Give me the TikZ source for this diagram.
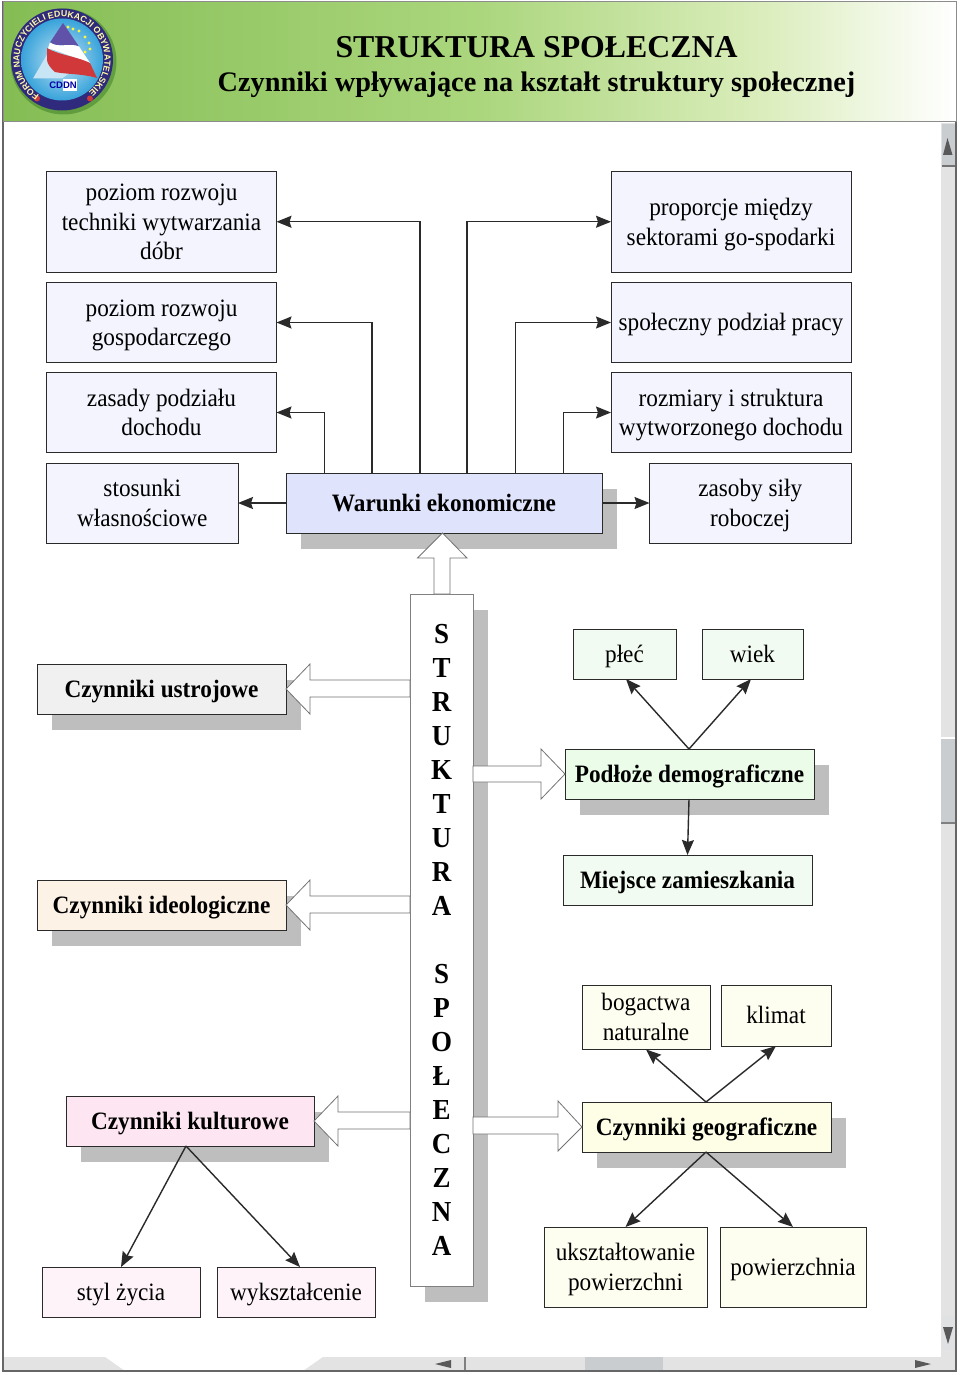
\documentclass[tikz,border=0pt]{standalone}
\usepackage{fontspec}
\setmainfont[FakeStretch=0.93]{Liberation Serif}
\newfontfamily\titlefont{Liberation Serif}
\setsansfont{Liberation Sans}
\usetikzlibrary{arrows.meta,shadows,decorations.text}
\pgfdeclarehorizontalshading{hdr}{100bp}{rgb(0bp)=(0.52,0.74,0.33);rgb(25bp)=(0.52,0.74,0.33);rgb(50bp)=(0.67,0.84,0.49);rgb(65bp)=(0.86,0.93,0.74);rgb(75bp)=(1,1,1);rgb(100bp)=(1,1,1)}
\definecolor{shad}{HTML}{BEBEBE}
\definecolor{lineC}{HTML}{2A2A2A}
\definecolor{fblue}{HTML}{F3F4FE}
\definecolor{fwar}{HTML}{DFE3FC}
\definecolor{fgrey}{HTML}{F0F0F0}
\definecolor{fideo}{HTML}{FDF2E6}
\definecolor{fkult}{HTML}{FDE6F2}
\definecolor{fpink}{HTML}{FEF3F9}
\definecolor{fgreen}{HTML}{F2FBF2}
\definecolor{fpod}{HTML}{EBFCE9}
\definecolor{fyel}{HTML}{FEFEF0}
\definecolor{fyel2}{HTML}{FEFEE6}
\definecolor{barC}{HTML}{E3E3E3}
\definecolor{btnC}{HTML}{CACDD0}
\definecolor{ringC}{HTML}{2F2A7C}
\definecolor{skyC}{HTML}{38A3DA}
\definecolor{purpC}{HTML}{5F52A8}
\definecolor{redC}{HTML}{D0383A}
\tikzset{
  x=1pt,y=-1pt,
  box/.style={draw=lineC,line width=1pt,inner sep=0pt,outer sep=0pt,align=center,
    font=\fontsize{25}{29.7}\selectfont},
  boldbox/.style={box,font=\fontsize{25}{29.7}\selectfont\bfseries},
  shadowbox/.style={boldbox,general shadow={fill=shad,shadow xshift=15pt,shadow yshift=-16pt}},
  arr/.style={draw=lineC,line width=1.4pt,-{Stealth[length=15pt,width=12pt,inset=2pt]}},
  blockarrow/.style={draw=black!55,line width=0.8pt,fill=white,line join=miter},
}
\newcommand\BxN[7]{\pgfmathsetmacro\bw{#5-#3}\pgfmathsetmacro\bh{#6-#4}%
  \node[#2,minimum width=\bw pt,minimum height=\bh pt,anchor=north west] (#1) at (#3,#4) {#7};}
\newcommand\Bx[7]{\BxN{#1}{#2}{#3}{#4}{#5}{#6}{\rule{0pt}{25.8pt}#7\strut}}
\begin{document}
\begin{tikzpicture}
\useasboundingbox (0,0) rectangle (960,1375);
\fill[white] (0,0) rectangle (960,1375);
% window
\fill[barC] (941,123) rectangle (955,1357);
\fill[btnC] (942,124) rectangle (955,166);
\fill[black!55] (942,165) rectangle (955,167);
\fill[black!65] (947.5,138) -- (952.5,155) -- (943,155) -- cycle;
\fill[btnC] (941,737) rectangle (955,824);
\fill[black!50] (941,822) rectangle (955,824);
\fill[white] (941,737) rectangle (955,739);
\fill[btnC!60!white] (942,1316) rectangle (955,1350);
\fill[black!65] (943,1327) -- (953,1327) -- (948,1344) -- cycle;
\fill[barC] (3,1357) -- (105,1357) -- (125,1371) -- (3,1371) -- cycle;
\fill[barC] (323,1357) -- (955,1357) -- (955,1371) -- (303,1371) -- cycle;
\fill[btnC] (585,1357) rectangle (663,1371);
\fill[black!50] (464,1357) rectangle (465.5,1371);
\fill[black!65] (435,1364) -- (451,1360) -- (451,1368) -- cycle;
\fill[black!65] (931,1364) -- (915,1360) -- (915,1368) -- cycle;
\draw[black!60,line width=1.2pt] (3,2) rectangle (956,1371);
\shade[shading=hdr,draw=black!45,line width=1pt] (3,2) rectangle (956,122);
% logo
\begin{scope}[shift={(62,59.5)},x=1pt,y=1pt]
  \fill[black!70!green,opacity=.3] (1.5,-2) circle (53);
  \fill[ringC] (0,0) circle (51);
  \shade[inner color=white!70!skyC,outer color=skyC] (0,0) circle (41);
  \fill[white!72!skyC] (-12,10) -- (-29,-19) -- (0,-19) -- (15,-8) -- cycle;
  \fill[purpC] (1,36.5) -- (-12,17) .. controls (-4,11) and (8,17) .. (17,13) -- cycle;
  \fill[white] (-12,17) .. controls (-4,11) and (8,17) .. (17,13) -- (28,-3.5) .. controls (15,0) and (0,8) .. (-14,11) -- cycle;
  \fill[redC] (-15,11.5) .. controls (-5,5) and (15,3) .. (28,-3.5) -- (35,-18.5) .. controls (20,-14) and (5,-15) .. (-7,-12.5) .. controls (-12,-8) and (-15,-4) .. (-15,0) -- cycle;
  \foreach \dx/\dy in {6/32.5,11/30.5,17/28.5,23/22.5,27/16.5,28/10.5,23/7.5}{\fill[yellow!75!white] (\dx,\dy) circle (1.6);}
  \fill[redC] (-25,-39) circle (3);
  \fill[redC] (28,-39) circle (3);
  \path[postaction={decorate,decoration={text along path,text align=center,
      text={|\sffamily\bfseries\fontsize{8.8}{9}\selectfont\color{yellow!35!white}|FORUM NAUCZYCIELI EDUKACJI OBYWATELSKIEJ}}}]
      (228:42.5) arc[start angle=228,end angle=-48,radius=42.5];
  \node[inner sep=0pt,font=\sffamily\bfseries\fontsize{9.5}{10}\selectfont,text=blue!65!black] (logotext) at (1,-25.5) {CD\colorbox{white}{\kern-3pt\vphantom{D}\smash{DN}\kern-3pt}};
\end{scope}
% title
\node[inner sep=0pt,font=\titlefont\fontsize{31.8}{33}\selectfont\bfseries] (title) at (536.5,47.5) {STRUKTURA SPOŁECZNA};
\node[inner sep=0pt,font=\titlefont\fontsize{28.3}{30}\selectfont\bfseries] (subtitle) at (536.5,85) {Czynniki wpływające na kształt struktury społecznej};
% top group
\Bx{a1}{box,fill=fblue}{46.5}{171.5}{276.5}{272}{poziom rozwoju\\techniki wytwarzania\\dóbr}
\Bx{a2}{box,fill=fblue}{46.5}{282.5}{276.5}{362.5}{poziom rozwoju\\gospodarczego}
\Bx{a3}{box,fill=fblue}{46.5}{372.5}{276.5}{452.5}{zasady podziału\\dochodu}
\Bx{a4}{box,fill=fblue}{46.5}{463}{238}{543}{stosunki\\własnościowe}
\Bx{b1}{box,fill=fblue}{611}{171.5}{851}{272}{proporcje między\\sektorami go-spodarki}
\Bx{b2}{box,fill=fblue}{611}{282.5}{851}{362.5}{społeczny podział pracy}
\Bx{b3}{box,fill=fblue}{611}{372.5}{851}{452.5}{rozmiary i struktura\\wytworzonego dochodu}
\Bx{b4}{box,fill=fblue}{649.5}{463}{851}{543}{zasoby siły\\roboczej}
\Bx{W}{shadowbox,fill=fwar}{286}{473}{602}{533}{Warunki ekonomiczne}
% central column
\BxN{S}{shadowbox,fill=white,draw=black!50,line width=0.8pt,font=\fontsize{29}{34}\selectfont\bfseries}{410}{594}{473}{1286}{S\\T\\R\\U\\K\\T\\U\\R\\A\\\mbox{}\\S\\P\\O\\Ł\\E\\C\\Z\\N\\A}
% left group
\Bx{u}{shadowbox,fill=fgrey}{37}{664}{286}{714}{Czynniki ustrojowe}
\Bx{i}{shadowbox,fill=fideo}{37}{880}{286}{930}{Czynniki ideologiczne}
\Bx{k}{shadowbox,fill=fkult}{66}{1096}{314}{1146}{Czynniki kulturowe}
\Bx{st}{box,fill=fpink}{42}{1267}{200}{1317}{styl życia}
\Bx{wy}{box,fill=fpink}{217}{1267}{375}{1317}{wykształcenie}
% right group
\Bx{pl}{box,fill=fgreen}{573}{629}{676}{679}{płeć}
\Bx{wi}{box,fill=fgreen}{702}{629}{803}{679}{wiek}
\Bx{po}{shadowbox,fill=fpod}{565}{749}{814}{799}{Podłoże demograficzne}
\Bx{mi}{boldbox,fill=fgreen}{563}{855}{812}{905}{Miejsce zamieszkania}
\Bx{bo}{box,fill=fyel}{582}{985}{710}{1046}{bogactwa\\naturalne}
\Bx{kl}{box,fill=fyel}{721}{985}{831}{1046}{klimat}
\Bx{ge}{shadowbox,fill=fyel2}{582}{1102}{831}{1152}{Czynniki geograficzne}
\Bx{uk}{box,fill=fyel}{544}{1227}{707}{1307}{ukształtowanie\\powierzchni}
\Bx{pw}{box,fill=fyel}{720}{1227}{866}{1307}{powierzchnia}
% block arrows
\draw[blockarrow] (W.south) ++(-1.5,0) -- ++(24.5,25) -- ++(-17,0) -- ++(0,36) -- ++(-16,0) -- ++(0,-36) -- ++(-16.5,0) -- cycle;
\draw[blockarrow] (u.east) -- (310,664) -- (310,680) -- (S.west |- 0,680) -- (S.west |- 0,697) -- (310,697) -- (310,714) -- cycle;
\draw[blockarrow] (i.east) -- (310,880) -- (310,896) -- (S.west |- 0,896) -- (S.west |- 0,913) -- (310,913) -- (310,930) -- cycle;
\draw[blockarrow] (k.east) -- (338,1096) -- (338,1112) -- (S.west |- 0,1112) -- (S.west |- 0,1129) -- (338,1129) -- (338,1146) -- cycle;
\draw[blockarrow] (S.east |- 0,766) -- (541,766) -- (541,749) -- (po.west) -- (541,799) -- (541,782) -- (S.east |- 0,782) -- cycle;
\draw[blockarrow] (S.east |- 0,1117) -- (558,1117) -- (558,1101) -- (ge.west) -- (558,1151) -- (558,1134) -- (S.east |- 0,1134) -- cycle;
% connectors top
\draw[arr] (W.north west) ++(134,0) |- (a1.east);
\draw[arr] (W.north west) ++(86,0) |- (a2.east);
\draw[arr] (W.north west) ++(38.5,0) |- (a3.east);
\draw[arr] (W.west) -- (a4.east);
\draw[arr] (W.north west) ++(181,0) |- (b1.west);
\draw[arr] (W.north west) ++(229.5,0) |- (b2.west);
\draw[arr] (W.north west) ++(277.5,0) |- (b3.west);
\draw[arr] (W.east) -- (b4.west);
% diagonals
\draw[arr] (po.north) ++(-0.5,0) -- ([xshift=1.5pt]pl.south);
\draw[arr] (po.north) ++(-0.5,0) -- ([xshift=-1.5pt]wi.south);
\draw[arr] (po.south) ++(-0.5,0) -- (mi.north);
\draw[arr] (ge.north) ++(-0.5,0) -- (bo.south);
\draw[arr] (ge.north) ++(-0.5,0) -- (kl.south);
\draw[arr] (ge.south) ++(-0.5,0) -- (uk.north);
\draw[arr] (ge.south) ++(-0.5,0) -- (pw.north);
\draw[arr] (k.south) ++(-4,0) -- (st.north);
\draw[arr] (k.south) ++(-4,0) -- ([xshift=4pt]wy.north);
\end{tikzpicture}
\end{document}
